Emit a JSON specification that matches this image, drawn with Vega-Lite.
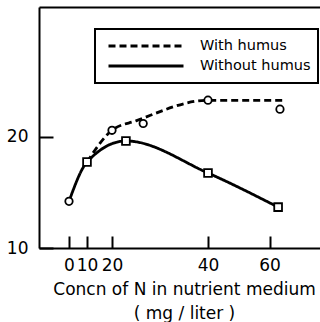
{
  "$schema": "https://vega.github.io/schema/vega-lite/v6.json",
  "width": 281,
  "height": 241,
  "padding": {"left": 6, "top": 7, "right": 0, "bottom": 2},
  "config": {
    "view": {"stroke": null},
    "font": "DejaVu Sans",
    "axis": {
      "grid": false,
      "domainColor": "black",
      "domainWidth": 2,
      "tickColor": "black",
      "tickWidth": 2,
      "labelColor": "black",
      "labelFont": "DejaVu Sans",
      "labelFontSize": 17,
      "titleColor": "black",
      "titleFont": "DejaVu Sans",
      "titleFontSize": 17,
      "titleFontWeight": "normal"
    }
  },
  "datasets": {
    "curves": [
      {"series": "With humus", "n": 10, "v": 17.74},
      {"series": "With humus", "n": 20, "v": 20.6},
      {"series": "With humus", "n": 25, "v": 21.45},
      {"series": "With humus", "n": 40, "v": 23.3},
      {"series": "With humus", "n": 65, "v": 23.3},
      {"series": "Without humus", "n": 0, "v": 14.2},
      {"series": "Without humus", "n": 10, "v": 17.74},
      {"series": "Without humus", "n": 22.9, "v": 19.64},
      {"series": "Without humus", "n": 40, "v": 16.75},
      {"series": "Without humus", "n": 62.8, "v": 13.68}
    ],
    "points": [
      {"series": "With humus", "n": 0, "v": 14.2},
      {"series": "With humus", "n": 20, "v": 20.6},
      {"series": "With humus", "n": 26.5, "v": 21.21},
      {"series": "With humus", "n": 40, "v": 23.31},
      {"series": "With humus", "n": 63.4, "v": 22.5},
      {"series": "Without humus", "n": 10, "v": 17.74},
      {"series": "Without humus", "n": 22.9, "v": 19.64},
      {"series": "Without humus", "n": 40, "v": 16.75},
      {"series": "Without humus", "n": 62.8, "v": 13.68}
    ]
  },
  "resolve": {"axis": {"x": "independent"}},
  "layer": [
    {
      "data": {"name": "curves"},
      "mark": {"type": "line", "interpolate": "monotone", "strokeWidth": 2.8, "color": "black"},
      "encoding": {
        "x": {
          "field": "n", "type": "quantitative",
          "scale": {"domain": [-16.7, 0, 10, 20, 40, 60, 76.4], "range": [0, 30, 48, 73, 169, 230.5, 281], "nice": false, "zero": false},
          "axis": {
            "orient": "bottom",
            "values": [0, 10, 20, 40, 60],
            "tickSize": -12,
            "labelPadding": 21.5,
            "labelOverlap": false,
            "labelFlush": false,
            "title": ["Concn of N in nutrient medium", "( mg / liter )"],
            "titleLineHeight": 24,
            "titlePadding": 8,
            "titleX": 145
          }
        },
        "y": {
          "field": "v", "type": "quantitative",
          "scale": {"domain": [10, 31.7], "nice": false, "zero": false},
          "axis": {"values": [10, 20], "tickSize": -14, "labelPadding": 25, "title": null}
        },
        "strokeDash": {
          "field": "series", "type": "nominal",
          "scale": {"domain": ["With humus", "Without humus"], "range": [[7, 4], [1, 0]]},
          "legend": {
            "orient": "none",
            "legendX": 56,
            "legendY": 22,
            "title": null,
            "symbolType": "stroke",
            "symbolSize": 5625,
            "symbolStrokeWidth": 3,
            "symbolStrokeColor": "black",
            "symbolOffset": 5,
            "clipHeight": 20,
            "rowPadding": 0,
            "labelFont": "DejaVu Sans",
            "labelFontSize": 14.5,
            "labelColor": "black",
            "labelOffset": 15,
            "padding": 7,
            "strokeColor": "black",
            "encode": {"legend": {"update": {"strokeWidth": {"value": 2}}}}
          }
        }
      }
    },
    {
      "data": {"name": "points"},
      "transform": [{"filter": "datum.series === 'With humus'"}],
      "mark": {"type": "point", "shape": "circle", "filled": true, "fill": "white", "stroke": "black", "strokeWidth": 1.8, "size": 55, "opacity": 1},
      "encoding": {
        "x": {
          "field": "n", "type": "quantitative",
          "axis": {"orient": "top", "labels": false, "ticks": false, "title": null, "domain": true}
        },
        "y": {
          "field": "v", "type": "quantitative",
          "axis": {"values": [10, 20], "tickSize": -14, "labelPadding": 25, "title": null}
        }
      }
    },
    {
      "data": {"name": "points"},
      "transform": [{"filter": "datum.series === 'Without humus'"}],
      "mark": {"type": "point", "shape": "square", "filled": true, "fill": "white", "stroke": "black", "strokeWidth": 1.8, "size": 60, "opacity": 1},
      "encoding": {
        "x": {"field": "n", "type": "quantitative", "axis": null},
        "y": {
          "field": "v", "type": "quantitative",
          "axis": {"values": [10, 20], "tickSize": -14, "labelPadding": 25, "title": null}
        }
      }
    }
  ]
}
